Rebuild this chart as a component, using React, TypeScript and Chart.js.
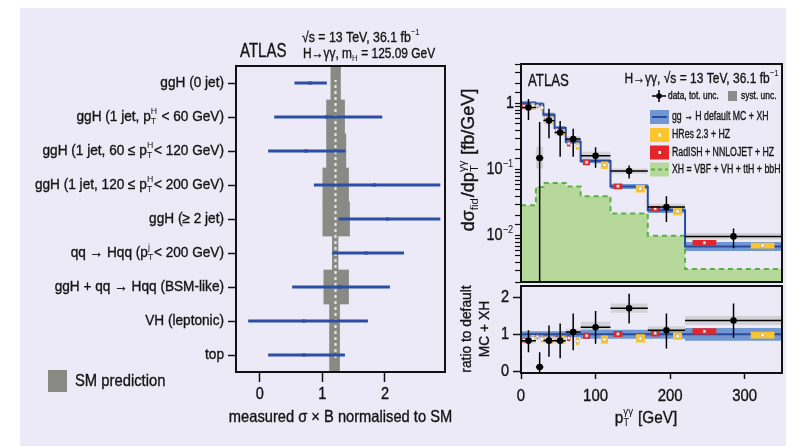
import React, { useEffect, useRef } from 'react';
import { Chart, registerables } from 'chart.js';
Chart.register(...registerables);

// ---------------- Left panel data ----------------
const categories = [
  'ggH (0 jet)',
  'ggH (1 jet, p_{T}^{H} < 60 GeV)',
  'ggH (1 jet, 60 ≤ p_{T}^{H}< 120 GeV)',
  'ggH (1 jet, 120 ≤ p_{T}^{H}< 200 GeV)',
  'ggH (≥ 2 jet)',
  'qq → Hqq (p_{T}^{j}< 200 GeV)',
  'ggH + qq → Hqq (BSM-like)',
  'VH (leptonic)',
  'top',
];
const measured = [0.805, 1.067, 0.736, 1.83, 2.04, 1.7, 1.28, 0.704, 0.704];
const measuredLo = [0.56, 0.235, 0.139, 0.87, 1.264, 1.163, 0.523, -0.18, 0.139];
const measuredHi = [1.067, 1.952, 1.365, 2.88, 2.88, 2.3, 2.075, 1.723, 1.355];
const smLo = [1.136, 1.067, 1.067, 1.008, 1.008, 1.16, 1.024, 1.115, 1.115];
const smHi = [1.29, 1.355, 1.376, 1.419, 1.435, 1.25, 1.419, 1.275, 1.275];
const smCentral = 1.21;
const leftXTicks = [0, 1, 2];

// ---------------- Right panel data ----------------
const binEdges = [0, 20, 30, 45, 60, 80, 120, 170, 220, 350];
const dataX = [10, 25, 37.5, 52.5, 70, 100, 145, 195, 285];
const xsecVal = [0.88, 0.151, 0.557, 0.366, 0.293, 0.163, 0.0955, 0.0273, 0.0098];
const xsecUp = [1.18, 0.53, 0.84, 0.55, 0.417, 0.22, 0.116, 0.0398, 0.0129];
const xsecDn = [0.57, 0.0015, 0.3, 0.158, 0.158, 0.107, 0.074, 0.0162, 0.0065];
const xsecSystLo = [0.8, 0.105, 0.49, 0.33, 0.258, 0.149, 0.087, 0.0245, 0.0088];
const xsecSystHi = [0.97, 0.224, 0.64, 0.4, 0.326, 0.188, 0.105, 0.0305, 0.011];
const mcVal = [1.02, 0.98, 0.68, 0.43, 0.267, 0.136, 0.056, 0.0245, 0.0069];
const mcLo = [0.95, 0.91, 0.63, 0.4, 0.248, 0.126, 0.051, 0.0222, 0.0059];
const mcHi = [1.1, 1.05, 0.73, 0.46, 0.287, 0.147, 0.061, 0.027, 0.0081];
const radVal = [0.92, 0.93, 0.62, 0.4, 0.25, 0.13, 0.0565, 0.0258, 0.00785];
const radRelUnc = [0.08, 0.08, 0.09, 0.09, 0.1, 0.1, 0.1, 0.1, 0.1];
const hresVal = [0.93, 0.87, 0.58, 0.37, 0.23, 0.118, 0.052, 0.0235, 0.00714];
const hresRelUnc = [0.1, 0.12, 0.12, 0.12, 0.13, 0.13, 0.13, 0.13, 0.1];
const xhVal = [0.029, 0.055, 0.063, 0.063, 0.056, 0.0399, 0.0217, 0.01, 0.00316];

const ratioVal = [0.83, 0.12, 0.83, 0.83, 1.06, 1.19, 1.7, 1.11, 1.37];
const ratioUp = [1.11, 0.52, 1.24, 1.29, 1.56, 1.63, 2.09, 1.56, 1.83];
const ratioDn = [0.52, -0.1, 0.4, 0.36, 0.57, 0.75, 1.29, 0.62, 0.91];
const ratioSystLo = [0.76, 0.07, 0.76, 0.76, 0.98, 1.05, 1.58, 0.97, 1.25];
const ratioSystHi = [0.9, 0.17, 0.9, 0.9, 1.15, 1.34, 1.83, 1.22, 1.49];
const mcRatio = [1, 1, 1, 1, 1, 1, 1, 1, 1];
const mcRatioLo = [0.92, 0.92, 0.92, 0.92, 0.92, 0.88, 0.88, 0.88, 0.83];
const mcRatioHi = [1.08, 1.08, 1.08, 1.08, 1.08, 1.12, 1.12, 1.12, 1.17];
const radRatio = [0.85, 0.94, 0.91, 0.89, 0.9, 0.96, 1.01, 1.03, 1.08];
const radRatioUnc = [0.07, 0.07, 0.07, 0.08, 0.08, 0.08, 0.08, 0.085, 0.085];
const hresRatio = [0.89, 0.87, 0.85, 0.85, 0.82, 0.86, 0.89, 0.95, 0.98];
const hresRatioUnc = [0.09, 0.1, 0.1, 0.11, 0.11, 0.11, 0.11, 0.1, 0.09];

const topXTicks = [50, 100, 150, 200, 250, 300];
const topYTickValues = [0.01, 0.1, 1];
const topYTickLabels = ['10^{−2}', '10^{−1}', '1'];
const ratioXTicks = [0, 100, 200, 300];
const ratioYTicks = [0, 1, 2];

// box placement within a bin (fractions of bin width)
const radFrac = 0.2;
const hresFrac = 0.8;
const boxFrac = 0.25;

// ---------------- Styles ----------------
const FONT = "'Liberation Sans', Arial, sans-serif";
const BG = '#ebeaf6';
const TEXT = '#141414';
const SM_GRAY = '#8a8a84';
const ERR_BLUE = '#2c4ea2';
const GREEN_FILL = '#b6d89a';
const GREEN_LINE = '#5cb146';
const MC_BAND = '#7196d2';
const MC_LINE = '#2a4b9b';
const RED = '#e4262b';
const YELLOW = '#fcc52c';
const SYST = '#d3d3d7';

// ---------------- Rich text helper ----------------
type Tok = { t: string; script?: boolean; sub?: string; sup?: string };
function parseRich(s: string): Tok[] {
  const out: Tok[] = [];
  let buf = '';
  let i = 0;
  while (i < s.length) {
    const c = s[i];
    if ((c === '_' || c === '^') && s[i + 1] === '{') {
      const end = s.indexOf('}', i + 2);
      const content = s.slice(i + 2, end);
      if (buf) { out.push({ t: buf }); buf = ''; }
      let last = out[out.length - 1];
      if (!last || !last.script || (c === '_' ? last.sub !== undefined : last.sup !== undefined)) {
        last = { t: '', script: true };
        out.push(last);
      }
      if (c === '_') last.sub = content; else last.sup = content;
      i = end + 1;
    } else { buf += c; i++; }
  }
  if (buf) out.push({ t: buf });
  return out;
}
function drawRich(ctx: CanvasRenderingContext2D, s: string, x: number, y: number, size: number, o: any = {}) {
  const toks = parseRich(s);
  const sx = o.sx ?? 0.88;
  const weight = o.weight ?? 'normal';
  const font = (sz: number) => `${weight} ${sz}px ${FONT}`;
  const ss = size * 0.64;
  const widths = toks.map((t) => {
    if (!t.script) { ctx.font = font(size); return ctx.measureText(t.t).width; }
    ctx.font = font(ss);
    return Math.max(t.sub ? ctx.measureText(t.sub).width : 0, t.sup ? ctx.measureText(t.sup).width : 0) + size * 0.05;
  });
  const total = widths.reduce((a, b) => a + b, 0);
  ctx.save();
  ctx.translate(x, y);
  if (o.rot) ctx.rotate(o.rot);
  ctx.scale(sx, 1);
  let cx = o.align === 'right' ? -total : o.align === 'center' ? -total / 2 : 0;
  const color = o.color ?? TEXT;
  ctx.fillStyle = color;
  ctx.strokeStyle = color;
  ctx.lineWidth = 0.35;
  ctx.textAlign = 'left';
  ctx.textBaseline = 'middle';
  toks.forEach((t, k) => {
    if (!t.script) {
      ctx.font = font(size);
      ctx.fillText(t.t, cx, 0);
      ctx.strokeText(t.t, cx, 0);
    } else {
      ctx.font = font(ss);
      if (t.sup) ctx.fillText(t.sup, cx, -size * 0.36);
      if (t.sub) ctx.fillText(t.sub, cx, size * 0.3);
    }
    cx += widths[k];
  });
  ctx.restore();
}
function frame(ctx: CanvasRenderingContext2D, a: any) {
  ctx.save();
  ctx.strokeStyle = '#111';
  ctx.lineWidth = 2;
  ctx.strokeRect(a.left, a.top, a.right - a.left, a.bottom - a.top);
  ctx.restore();
}

// ---------------- Dataset builders ----------------
const nBins = binEdges.length - 1;
const binW = (i: number) => binEdges[i + 1] - binEdges[i];
const binLeft = binEdges.slice(0, nBins);
const histPts = (vals: number[]) =>
  vals.flatMap((v, i) => [{ x: binEdges[i], y: v }, { x: binEdges[i + 1], y: v }]);
const withOrder = (ds: any[]) => ds.map((d, i) => ({ ...d, order: ds.length - i }));
const NONE = 'rgba(0,0,0,0)';

function boxes(lo: number[], hi: number[], frac: number | null, color: string) {
  return lo.map((l, i) => {
    const c = frac === null ? binLeft[i] + binW(i) / 2 : binLeft[i] + frac * binW(i);
    const half = frac === null ? binW(i) / 2 : (boxFrac * binW(i)) / 2;
    return {
      type: 'line',
      data: [{ x: c - half, y: hi[i] }, { x: c + half, y: hi[i] }],
      fill: { target: { value: l } },
      backgroundColor: color,
      borderColor: NONE,
      borderWidth: 0,
      pointRadius: 0,
    };
  });
}
function centerMarks(vals: number[], frac: number, style: string, border: string) {
  return {
    type: 'line',
    showLine: false,
    data: vals.map((v, i) => ({ x: binLeft[i] + frac * binW(i), y: v })),
    pointStyle: style,
    pointRadius: 1.8,
    pointBackgroundColor: '#ffffff',
    pointBorderColor: border,
    pointBorderWidth: 0.6,
  };
}
function dataSets(val: number[], up: number[], dn: number[]) {
  return [
    {
      type: 'line',
      data: dataX.flatMap((x, i) => [{ x, y: dn[i] }, { x, y: up[i] }, { x, y: null }]),
      borderColor: '#000', borderWidth: 1.5, pointRadius: 0, spanGaps: false, fill: false,
    },
    {
      type: 'line',
      data: val.flatMap((v, i) => [{ x: binEdges[i], y: v }, { x: binEdges[i + 1], y: v }, { x: binEdges[i + 1], y: null }]),
      borderColor: '#000', borderWidth: 1.5, pointRadius: 0, spanGaps: false, fill: false,
    },
    {
      type: 'line', showLine: false,
      data: dataX.map((x, i) => ({ x, y: val[i] })),
      pointRadius: 3.3, pointBackgroundColor: '#000', pointBorderWidth: 0,
    },
  ];
}

// ---------------- Chart configs ----------------
const baseOpts = {
  responsive: false,
  animation: false,
  events: [],
  plugins: { legend: { display: false }, tooltip: { enabled: false } },
};

function leftConfig(): any {
  return {
    type: 'bar',
    data: {
      labels: categories,
      datasets: [
        { type: 'bar', data: smLo.map((l, i) => [l, smHi[i]]), backgroundColor: SM_GRAY, barPercentage: 1, categoryPercentage: 1, grouped: false, borderWidth: 0, order: 4 },
        { type: 'line', yAxisID: 'y2', data: [{ x: smCentral, y: 0 }, { x: smCentral, y: 1 }], borderColor: '#e4e4e4', borderDash: [3, 3], borderWidth: 2.2, pointRadius: 0, order: 3 },
        { type: 'bar', data: measuredLo.map((l, i) => [l, measuredHi[i]]), backgroundColor: ERR_BLUE, barThickness: 2.5, grouped: false, borderWidth: 0, order: 2 },
        { type: 'line', showLine: false, data: measured.map((v, i) => ({ x: v, y: categories[i] })), pointStyle: 'rect', pointRadius: 2.3, pointBackgroundColor: ERR_BLUE, pointBorderWidth: 0, order: 1 },
      ],
    },
    options: {
      ...baseOpts,
      indexAxis: 'y',
      layout: { padding: { left: 206, top: 58, right: 15, bottom: 62 }, autoPadding: false },
      scales: {
        x: {
          type: 'linear', min: -0.38, max: 2.96,
          afterBuildTicks: (s: any) => { s.ticks = leftXTicks.map((v) => ({ value: v })); },
          ticks: { display: false },
          grid: { drawOnChartArea: false, drawTicks: true, tickLength: 10, tickColor: '#111', tickWidth: 1.5 },
          border: { display: false },
          afterFit: (s: any) => { s.height = 12; },
        },
        y: {
          type: 'category', offset: true,
          ticks: { display: false },
          grid: { offset: false, drawOnChartArea: false, drawTicks: true, tickLength: 8, tickColor: '#111', tickWidth: 1.5 },
          border: { display: false },
          afterFit: (s: any) => { s.width = 10; },
        },
        y2: { type: 'linear', display: false, min: 0, max: 1 },
      },
    },
    plugins: [{
      id: 'leftText',
      afterDraw(chart: any) {
        const { ctx, chartArea: a, scales } = chart;
        frame(ctx, a);
        categories.forEach((c, i) => drawRich(ctx, c, a.left - 12, scales.y.getPixelForValue(i), 14.5, { align: 'right', sx: 0.94 }));
        leftXTicks.forEach((v) => drawRich(ctx, String(v), scales.x.getPixelForValue(v), a.bottom + 22, 16.5, { align: 'center' }));
        drawRich(ctx, 'measured σ × B normalised to SM', (a.left + a.right) / 2, a.bottom + 45, 16.5, { align: 'center', sx: 0.89 });
        ctx.save();
        ctx.translate(-20, -8);
        drawRich(ctx, 'ATLAS', 240, 51, 20, { sx: 0.75 });
        drawRich(ctx, '√s = 13 TeV, 36.1 fb^{−1}', 302, 38, 14.5, { sx: 0.85 });
        drawRich(ctx, 'H→γγ, m_{H} = 125.09 GeV', 303, 54, 14, { sx: 0.85 });
        ctx.fillStyle = SM_GRAY;
        ctx.fillRect(48, 370, 19, 22);
        drawRich(ctx, 'SM prediction', 75, 381, 17, { sx: 0.87 });
        ctx.restore();
      },
    }],
  };
}

function topConfig(): any {
  const radLo = radVal.map((v, i) => v * (1 - radRelUnc[i]));
  const radHi = radVal.map((v, i) => v * (1 + radRelUnc[i]));
  const hrLo = hresVal.map((v, i) => v * (1 - hresRelUnc[i]));
  const hrHi = hresVal.map((v, i) => v * (1 + hresRelUnc[i]));
  const ds = [
    { type: 'line', data: histPts(xhVal), fill: 'start', backgroundColor: GREEN_FILL, borderColor: GREEN_LINE, borderDash: [5, 4], borderWidth: 2, pointRadius: 0 },
    ...boxes(xsecSystLo, xsecSystHi, null, SYST),
    { type: 'line', data: histPts(mcHi), fill: '+1', backgroundColor: MC_BAND, borderColor: NONE, borderWidth: 0, pointRadius: 0 },
    { type: 'line', data: histPts(mcLo), fill: false, borderColor: NONE, borderWidth: 0, pointRadius: 0 },
    { type: 'line', data: histPts(mcVal), fill: false, borderColor: MC_LINE, borderWidth: 2, pointRadius: 0 },
    ...boxes(radLo, radHi, radFrac, RED),
    ...boxes(hrLo, hrHi, hresFrac, YELLOW),
    centerMarks(radVal, radFrac, 'rect', '#999'),
    centerMarks(hresVal, hresFrac, 'circle', '#999'),
    ...dataSets(xsecVal, xsecUp, xsecDn),
  ];
  return {
    type: 'line',
    data: { datasets: withOrder(ds) },
    options: {
      ...baseOpts,
      layout: { padding: { left: 53, top: 56, right: 4, bottom: 5 }, autoPadding: false },
      elements: { line: { tension: 0 } },
      scales: {
        x: {
          type: 'linear', min: 0, max: 350,
          afterBuildTicks: (s: any) => { s.ticks = topXTicks.map((v) => ({ value: v })); },
          ticks: { display: false },
          grid: { drawOnChartArea: false, drawTicks: true, tickLength: -6, tickColor: '#111', tickWidth: 1.5 },
          border: { display: false },
          afterFit: (s: any) => { s.height = 1; },
        },
        y: {
          type: 'logarithmic', min: 0.002, max: 4,
          ticks: { display: false },
          grid: { drawOnChartArea: false, drawTicks: true, tickLength: 6, tickColor: '#111', tickWidth: 1.2 },
          border: { display: false },
          afterFit: (s: any) => { s.width = 8; },
        },
      },
    },
    plugins: [{
      id: 'topText',
      afterDraw(chart: any) {
        const { ctx, chartArea: a, scales } = chart;
        frame(ctx, a);
        topYTickValues.forEach((v, i) => drawRich(ctx, topYTickLabels[i], a.left - 7, scales.y.getPixelForValue(v), 16.5, { align: 'right' }));
        ctx.save();
        ctx.translate(-460, -8);
        drawRich(ctx, 'dσ_{fid}/dp_{T}^{γγ} [fb/GeV]', 469, 160, 18, { align: 'center', rot: -Math.PI / 2, sx: 1 });
        drawRich(ctx, 'ATLAS', 528, 81, 16.5, { sx: 0.8 });
        drawRich(ctx, 'H→γγ, √s = 13 TeV, 36.1 fb^{−1}', 779, 79, 15, { align: 'right', sx: 0.8 });
        // legend: data / syst
        ctx.strokeStyle = '#000';
        ctx.lineWidth = 1.5;
        ctx.beginPath(); ctx.moveTo(652, 96); ctx.lineTo(666, 96); ctx.moveTo(659, 90); ctx.lineTo(659, 102); ctx.stroke();
        ctx.fillStyle = '#000';
        ctx.beginPath(); ctx.arc(659, 96, 2.8, 0, Math.PI * 2); ctx.fill();
        drawRich(ctx, 'data, tot. unc.', 668, 96, 10.5, { sx: 0.8 });
        ctx.fillStyle = '#8d8d8d';
        ctx.fillRect(728, 91, 9, 10);
        drawRich(ctx, 'syst. unc.', 741, 96, 10.5, { sx: 0.8 });
        // legend entries
        const entries = [
          { c: MC_BAND, t: 'gg → H default MC + XH', y: 117 },
          { c: YELLOW, t: 'HRes 2.3 + HZ', y: 135 },
          { c: RED, t: 'RadISH + NNLOJET + HZ', y: 152.5 },
          { c: GREEN_FILL, t: 'XH = VBF + VH + ttH + bbH', y: 169.5 },
        ];
        entries.forEach((e, k) => {
          ctx.fillStyle = e.c;
          ctx.fillRect(650, e.y - 7, 19, 14);
          if (k === 0) {
            ctx.strokeStyle = MC_LINE; ctx.lineWidth = 2; ctx.setLineDash([]);
            ctx.beginPath(); ctx.moveTo(652, e.y); ctx.lineTo(667, e.y); ctx.stroke();
          } else if (k === 3) {
            ctx.strokeStyle = GREEN_LINE; ctx.lineWidth = 2; ctx.setLineDash([4, 3]);
            ctx.beginPath(); ctx.moveTo(651, e.y); ctx.lineTo(668, e.y); ctx.stroke();
            ctx.setLineDash([]);
          } else {
            ctx.fillStyle = '#fff';
            ctx.fillRect(658.5, e.y - 1.5, 2.5, 3);
          }
          drawRich(ctx, e.t, 672, e.y, 12.5, { sx: 0.7 });
        });
        ctx.restore();
      },
    }],
  };
}

function ratioConfig(): any {
  const radLo = radRatio.map((v, i) => v - radRatioUnc[i]);
  const radHi = radRatio.map((v, i) => v + radRatioUnc[i]);
  const hrLo = hresRatio.map((v, i) => v - hresRatioUnc[i]);
  const hrHi = hresRatio.map((v, i) => v + hresRatioUnc[i]);
  const ds = [
    ...boxes(ratioSystLo, ratioSystHi, null, SYST),
    { type: 'line', data: histPts(mcRatioHi), fill: '+1', backgroundColor: MC_BAND, borderColor: NONE, borderWidth: 0, pointRadius: 0 },
    { type: 'line', data: histPts(mcRatioLo), fill: false, borderColor: NONE, borderWidth: 0, pointRadius: 0 },
    { type: 'line', data: histPts(mcRatio), fill: false, borderColor: MC_LINE, borderWidth: 2, pointRadius: 0 },
    ...boxes(radLo, radHi, radFrac, RED),
    ...boxes(hrLo, hrHi, hresFrac, YELLOW),
    centerMarks(radRatio, radFrac, 'rect', '#999'),
    centerMarks(hresRatio, hresFrac, 'circle', '#999'),
    ...dataSets(ratioVal, ratioUp, ratioDn),
  ];
  return {
    type: 'line',
    data: { datasets: withOrder(ds) },
    options: {
      ...baseOpts,
      layout: { padding: { left: 53, top: 6, right: 4, bottom: 65 }, autoPadding: false },
      elements: { line: { tension: 0 } },
      scales: {
        x: {
          type: 'linear', min: 0, max: 350,
          afterBuildTicks: (s: any) => { s.ticks = ratioXTicks.map((v) => ({ value: v })); },
          ticks: { display: false },
          grid: { drawOnChartArea: false, drawTicks: true, tickLength: 6, tickColor: '#111', tickWidth: 1.5 },
          border: { display: false },
          afterFit: (s: any) => { s.height = 8; },
        },
        y: {
          type: 'linear', min: -0.04, max: 2.3,
          afterBuildTicks: (s: any) => { s.ticks = ratioYTicks.map((v) => ({ value: v })); },
          ticks: { display: false },
          grid: { drawOnChartArea: false, drawTicks: true, tickLength: 8, tickColor: '#111', tickWidth: 1.5 },
          border: { display: false },
          afterFit: (s: any) => { s.width = 8; },
        },
      },
    },
    plugins: [{
      id: 'ratioText',
      afterDraw(chart: any) {
        const { ctx, chartArea: a, scales } = chart;
        frame(ctx, a);
        ratioYTicks.forEach((v) => drawRich(ctx, String(v), a.left - 12, scales.y.getPixelForValue(v), 16.5, { align: 'right' }));
        ratioXTicks.forEach((v) => drawRich(ctx, String(v), scales.x.getPixelForValue(v), a.bottom + 23, 17, { align: 'center' }));
        ctx.save();
        ctx.translate(-460, -280);
        drawRich(ctx, 'p_{T}^{γγ} [GeV]', 646, 418, 17, { align: 'center', sx: 0.9 });
        drawRich(ctx, 'ratio to default', 467, 329, 14.5, { align: 'center', rot: -Math.PI / 2, sx: 0.95 });
        drawRich(ctx, 'MC + XH', 485, 329, 14.5, { align: 'center', rot: -Math.PI / 2, sx: 0.95 });
        ctx.restore();
      },
    }],
  };
}

function ChartCanvas(props: { config: () => any; left: number; top: number; width: number; height: number }) {
  const ref = useRef<HTMLCanvasElement>(null);
  useEffect(() => {
    const chart = new Chart(ref.current as HTMLCanvasElement, props.config());
    return () => chart.destroy();
  }, []);
  const { left, top, width, height } = props;
  return <canvas ref={ref} width={width} height={height} style={{ position: 'absolute', left, top, width, height }} />;
}

export default function App() {
  return (
    <div style={{ position: 'fixed', left: 0, top: 0, width: 786, height: 446, background: '#fff', overflow: 'hidden' }}>
      <div style={{ position: 'absolute', left: 20, top: 8, width: 766, height: 438, background: BG }} />
      <ChartCanvas config={leftConfig} left={20} top={8} width={440} height={438} />
      <ChartCanvas config={topConfig} left={460} top={8} width={326} height={280} />
      <ChartCanvas config={ratioConfig} left={460} top={280} width={326} height={166} />
    </div>
  );
}
